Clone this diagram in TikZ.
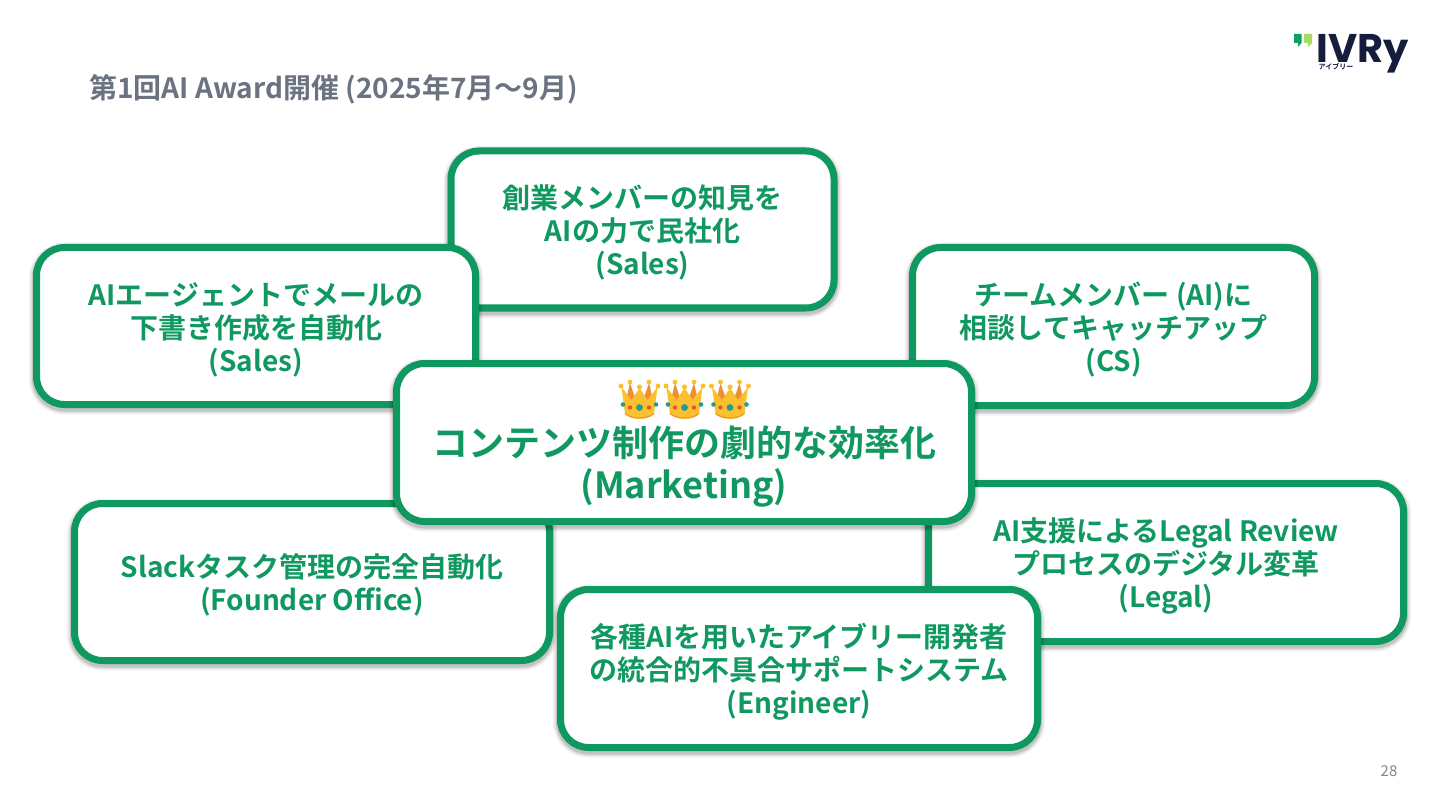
\documentclass[tikz,border=0pt]{standalone}
\usepackage{fontspec}
\setmainfont{Noto Sans CJK JP}[BoldFont={Noto Sans CJK JP Bold}]
\newfontfamily\logofont{Poppins}[BoldFont={Poppins Bold}]
\usetikzlibrary{shadows}
\definecolor{ivgreen}{HTML}{0F9860}
\definecolor{ivgray}{HTML}{6B7280}
\definecolor{ivnavy}{HTML}{141E3C}
\definecolor{ivleafa}{HTML}{0FA060}
\definecolor{ivleafb}{HTML}{A5DC60}
\definecolor{crowngold}{HTML}{FBC02D}
\definecolor{crownorange}{HTML}{EE9030}
\definecolor{crownteal}{HTML}{1E9E98}
\definecolor{crownred}{HTML}{E5533D}
\newcommand{\firstline}{\rule{0pt}{30pt}}
\tikzset{
  x=1pt,y=-1pt,
  softshadow/.style={
    general shadow={draw=black,fill=black,opacity=.05,line width=15pt,shadow xshift=0pt,shadow yshift=-2.5pt},
    general shadow={draw=black,fill=black,opacity=.08,line width=12pt,shadow xshift=0pt,shadow yshift=-2.5pt},
    general shadow={draw=black,fill=black,opacity=.12,line width=9pt,shadow xshift=0pt,shadow yshift=-2.5pt}},
  cardbox/.style={softshadow,draw=ivgreen,fill=white,line width=7pt,rounded corners=28pt,
    inner sep=0pt,align=center,text=ivgreen,font=\fontsize{28}{33}\selectfont\bfseries},
  herocard/.style={cardbox,font=\fontsize{36}{42}\selectfont\bfseries},
  titletext/.style={anchor=west,text=ivgray,font=\fontsize{28}{32}\selectfont\bfseries,inner sep=0pt},
  pagenum/.style={anchor=center,text=ivgray!85,font=\fontsize{15}{18}\selectfont,inner sep=0pt},
  crownmark/.pic={
    \fill[crownorange] (-14,2) -- (-9.5,-17) -- (-3,2) -- (3,2) -- (9.5,-17) -- (14,2) -- (14,10) -- (-14,10) -- cycle;
    \fill[crowngold] (-18,-13) -- (-8,0) -- (0,-12) -- (8,0) -- (18,-13) -- (14.5,14) .. controls (8,20.5) and (-8,20.5) .. (-14.5,14) -- cycle;
    \fill[crownteal] (0,7.5) circle (3.4);
    \fill[crownred] (-9.5,7.5) circle (2.2) (9.5,7.5) circle (2.2);
    \fill[crownteal] (-16.5,4.5) circle (2.3) (16.5,4.5) circle (2.3);
    \fill[crowngold] (-18.5,-14) circle (2.5) (18.5,-14) circle (2.5) (-9.5,-18) circle (2.4) (9.5,-18) circle (2.4) (0,-13) circle (2.6);
    \draw[crownorange,line width=1pt] (-14.5,13.5) .. controls (-8,19.5) and (8,19.5) .. (14.5,13.5);
  }
}
\begin{document}
\begin{tikzpicture}
\useasboundingbox (0,0) rectangle (1440,810);
\fill[white] (0,0) rectangle (1440,810);
\node[titletext] (title) at (89,89.5) {第1回AI Award開催 (2025年7月〜9月)};
% logo
\fill[ivleafa] (1294,34) -- (1301.5,34) -- (1301.5,43) -- (1298,47) -- (1298,43) -- (1294,43) -- cycle;
\fill[ivleafb] (1304,34) -- (1312,34) -- (1312,43) -- (1308,47) -- (1308,43) -- (1304,43) -- cycle;
\node[anchor=base west,inner sep=0pt,text=ivnavy,font=\fontsize{40}{40}\logofont\bfseries] (logo) at (1316.5,62.5) {\smash{IVRy}};
\node[anchor=center,inner sep=0pt,text=ivnavy,font=\fontsize{7}{8}\selectfont\bfseries] (logosub) at (1336,66.5) {アイブリー};
% cards
\node[cardbox,minimum width=383pt,minimum height=157pt] (founders) at (642.5,229.5) {\firstline 創業メンバーの知見を\\AIの力で民社化\\(Sales)};
\node[cardbox,minimum width=439pt,minimum height=157pt] (mail) at (256,326) {\firstline AIエージェントでメールの\\下書き作成を自動化\\(Sales)};
\node[cardbox,minimum width=402pt,minimum height=158pt] (team) at (1113.5,326.5) {\firstline チームメンバー (AI)に\\相談してキャッチアップ\\(CS)};
\node[cardbox,minimum width=475pt,minimum height=157pt] (slack) at (312,582) {\firstline Slackタスク管理の完全自動化\\(Founder Office)};
\node[cardbox,minimum width=475pt,minimum height=158pt] (legal) at (1166,562.5) {\firstline AI支援によるLegal Review\\プロセスのデジタル変革\\(Legal)};
\node[cardbox,minimum width=477pt,minimum height=158pt] (engineer) at (799,668.5) {\firstline 各種AIを用いたアイブリー開発者\\の統合的不具合サポートシステム\\(Engineer)};
\node[herocard,minimum width=575pt,minimum height=158pt] (hero) at (684,442.5) {\rule{0pt}{29pt}\\[8pt]コンテンツ制作の劇的な効率化\\(Marketing)};
% crowns
\foreach \cx in {639.5,684.5,730} \pic at (\cx,400) {crownmark};
\node[pagenum] (page) at (1389,771) {28};
\end{tikzpicture}
\end{document}
